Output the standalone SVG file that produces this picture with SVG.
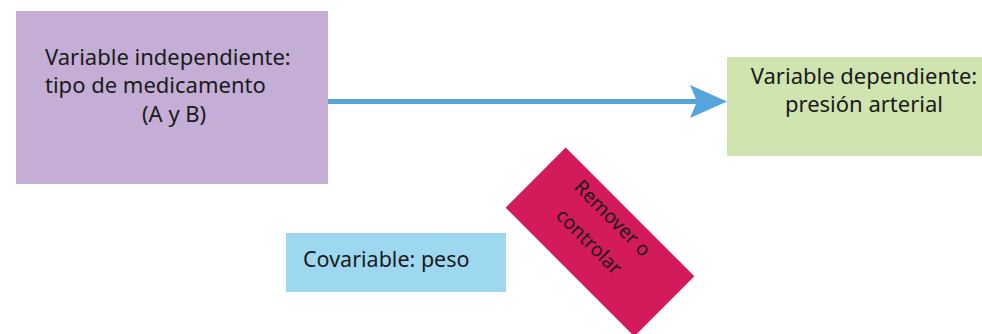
<svg xmlns="http://www.w3.org/2000/svg" width="982" height="334" viewBox="0 0 982 334">
<style>
text{font-family:"Noto Sans","Liberation Sans",Arial,sans-serif;fill:#1a1a1a}
.t23{font-size:22px}
.t21{font-size:21.5px}
.t20{font-size:19.5px}
</style>
<rect width="982" height="334" fill="#ffffff"/>
<g id="connectors">
<line x1="328" y1="101.5" x2="698" y2="101.5" stroke="#55a4dc" stroke-width="5"/>
<polygon points="690,85 727,101.5 690,118 697,101.5" fill="#55a4dc"/>
</g>
<g id="independiente">
<rect x="16" y="11" width="312" height="173" fill="#c4aed6"/>
<text class="t23" x="45" y="65">Variable independiente:</text>
<text class="t23" x="45" y="93">tipo de medicamento</text>
<text class="t23" x="142" y="122">(A y B)</text>
</g>
<g id="dependiente">
<rect x="727" y="57" width="255" height="99" fill="#cfe4af"/>
<text class="t23" x="864" y="84" text-anchor="middle">Variable dependiente:</text>
<text class="t23" x="864" y="112" text-anchor="middle">presión arterial</text>
</g>
<g id="covariable">
<rect x="286" y="233" width="220" height="59" fill="#9dd7f0"/>
<text class="t21" x="303" y="267">Covariable: peso</text>
</g>
<g id="remover" transform="translate(600,242) rotate(45)">
<rect x="-91" y="-42.5" width="182" height="85" fill="#d31b5c"/>
<text class="t20" x="-8" y="-19" text-anchor="middle">Remover o</text>
<text class="t20" x="-8" y="14" text-anchor="middle">controlar</text>
</g>
</svg>
